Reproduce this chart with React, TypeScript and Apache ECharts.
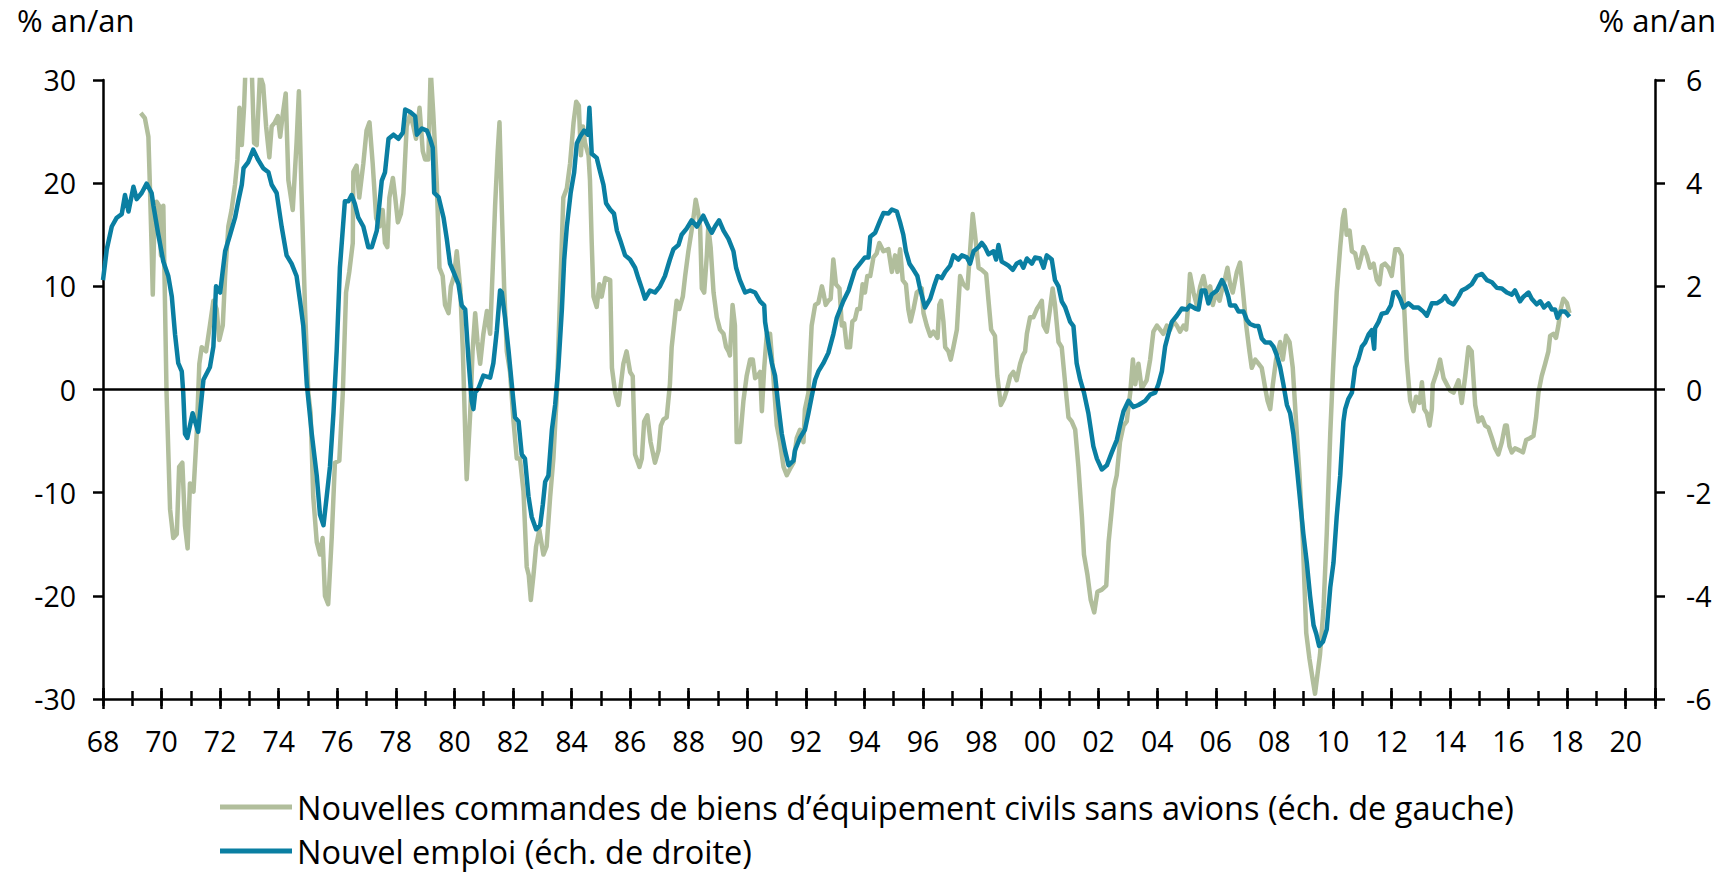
import React, { useEffect, useRef } from "react";
import * as echarts from "echarts";

const FONT = '"Open Sans", "Noto Sans", sans-serif';
const GREEN = "#b1be9c";
const BLUE = "#0a7fa2";

const ordersName = "Nouvelles commandes de biens d’équipement civils sans avions (éch. de gauche)";
const jobsName = "Nouvel emploi (éch. de droite)";
const unitLabel = "% an/an";

// [année décimale, % an/an] — commandes (échelle de gauche)
const ordersPoints: [number, number][] = [
  [1969.29,26.8],[1969.43,26.3],[1969.55,24.5],[1969.6,19.9],[1969.66,13.8],[1969.7,9.2],[1969.75,15.8],[1969.83,18.2],[1969.92,17.8],[1969.98,13.0],[1970.06,17.8],[1970.12,7.8],[1970.17,-0.3],[1970.29,-11.6],[1970.4,-14.4],[1970.52,-14.0],[1970.6,-7.5],[1970.71,-7.1],[1970.8,-13.2],[1970.89,-15.4],[1970.97,-9.1],[1971.09,-9.9],[1971.2,-4.3],[1971.29,2.5],[1971.37,4.1],[1971.52,3.7],[1971.65,6.2],[1971.77,8.6],[1971.88,7.8],[1971.97,4.8],[1972.09,6.2],[1972.17,11.0],[1972.28,15.8],[1972.39,17.4],[1972.51,19.9],[1972.59,22.3],[1972.66,27.3],[1972.74,23.7],[1972.82,27.5],[1972.87,31.5],[1973.0,33],[1973.08,31],[1973.16,23.9],[1973.25,23.7],[1973.36,30.5],[1973.47,29.5],[1973.57,25.5],[1973.68,22.5],[1973.76,25.5],[1973.87,25.9],[1973.97,26.5],[1974.05,24.5],[1974.14,26.7],[1974.24,28.7],[1974.33,20.3],[1974.48,17.4],[1974.61,23.9],[1974.69,28.9],[1974.78,19.0],[1974.9,7.8],[1975.01,-0.3],[1975.09,-2.3],[1975.18,-10.4],[1975.3,-14.8],[1975.41,-16.0],[1975.5,-14.4],[1975.58,-20.0],[1975.69,-20.8],[1975.81,-14.4],[1975.92,-7.1],[1976.07,-6.9],[1976.19,-0.3],[1976.3,9.4],[1976.41,11.4],[1976.53,14.2],[1976.55,21.1],[1976.66,21.7],[1976.75,18.6],
  [1976.89,21.9],[1977.0,25.1],[1977.1,25.9],[1977.21,21.9],[1977.33,16.6],[1977.44,15.8],[1977.55,17.4],[1977.63,14.2],[1977.71,13.8],[1977.78,18.6],[1977.9,20.5],[1977.98,18.6],[1978.07,16.2],[1978.17,17.0],[1978.26,19.0],[1978.37,25.5],[1978.49,26.7],[1978.6,25.5],[1978.69,24.3],[1978.81,27.3],[1978.92,23.1],[1979.0,22.3],[1979.11,22.3],[1979.19,31],[1979.28,26.7],[1979.4,19.9],[1979.49,11.8],[1979.6,11.0],[1979.68,8.2],[1979.8,7.4],[1979.88,10.0],[1979.99,11.0],[1980.08,13.4],[1980.2,9.8],[1980.29,3.7],[1980.37,-4.3],[1980.42,-8.7],[1980.54,-2.3],[1980.62,3.7],[1980.71,7.4],[1980.79,4.6],[1980.88,2.5],[1980.99,5.4],[1981.11,7.6],[1981.22,5.4],[1981.31,11.8],[1981.39,17.8],[1981.48,23.1],[1981.54,25.9],[1981.62,17.4],[1981.7,9.8],[1981.79,3.7],[1981.9,1.7],[1982.02,-3.1],[1982.13,-6.7],[1982.24,-6.7],[1982.36,-9.9],[1982.47,-17.2],[1982.54,-18.0],[1982.61,-20.4],[1982.7,-18.0],[1982.79,-15.2],[1982.9,-13.6],[1983.04,-16.0],[1983.15,-15.2],[1983.27,-10.4],[1983.38,-6.7],[1983.5,-0.3],[1983.61,9.4],[1983.72,18.6],[1983.84,19.5],[1983.95,21.9],[1984.07,25.9],[1984.16,27.9],[1984.25,27.5],[1984.32,22.7],[1984.39,25.5],[1984.46,23.9],[1984.58,22.7],[1984.63,20.3],[1984.69,14.2],[1984.75,9.0],[1984.86,8.0],[1984.95,10.2],[1985.03,9.0],[1985.15,10.8],[1985.32,10.6],[1985.38,2.1],[1985.49,-0.3],[1985.6,-1.5],
  [1985.77,2.5],[1985.88,3.7],[1986.0,1.7],[1986.09,1.3],[1986.17,-6.3],[1986.32,-7.5],[1986.4,-6.7],[1986.48,-3.1],[1986.59,-2.5],[1986.7,-5.1],[1986.85,-7.1],[1986.97,-5.9],[1987.05,-3.5],[1987.14,-2.9],[1987.25,-2.7],[1987.36,0.5],[1987.42,4.1],[1987.53,7.0],[1987.59,8.6],[1987.68,7.8],[1987.8,9.0],[1987.88,11.0],[1987.99,13.4],[1988.1,15.4],[1988.18,17.0],[1988.24,18.4],[1988.31,17.4],[1988.39,15.8],[1988.45,9.8],[1988.53,9.4],[1988.62,13.0],[1988.67,15.8],[1988.75,13.8],[1988.85,9.4],[1988.96,7.0],[1989.07,5.8],[1989.19,5.4],[1989.28,4.1],[1989.36,3.7],[1989.41,3.3],[1989.5,8.2],[1989.58,6.2],[1989.64,-5.1],[1989.75,-5.1],[1989.87,-1.1],[1989.98,1.3],[1990.1,2.9],[1990.19,2.9],[1990.27,1.1],[1990.35,1.3],[1990.44,1.7],[1990.5,-2.1],[1990.58,2.1],[1990.67,5.4],[1990.78,5.4],[1990.87,2.1],[1990.95,-1.1],[1991.01,-3.5],[1991.12,-5.1],[1991.24,-7.5],[1991.35,-8.3],[1991.46,-7.7],[1991.58,-7.1],[1991.69,-4.7],[1991.8,-3.9],[1991.92,-5.1],[1991.97,-1.9],[1992.09,-0.3],[1992.2,6.2],[1992.32,8.2],[1992.43,8.4],[1992.55,10.0],[1992.6,9.4],[1992.68,8.2],[1992.77,8.6],[1992.85,8.8],[1992.94,12.6],[1993.03,10.2],[1993.15,9.8],[1993.23,6.2],[1993.31,6.4],[1993.4,4.1],[1993.51,4.1],[1993.59,6.6],[1993.68,6.8],[1993.76,7.8],[1993.85,7.8],[1993.94,10.2],[1994.02,9.4],[1994.1,11.0],[1994.2,11.0],[1994.31,12.8],[1994.42,13.2],[1994.51,14.2],
  [1994.65,13.4],[1994.82,13.6],[1994.94,11.4],[1995.05,13.0],[1995.13,11.4],[1995.22,13.6],[1995.31,10.6],[1995.42,10.2],[1995.5,7.8],[1995.58,6.6],[1995.68,7.8],[1995.79,9.4],[1995.96,9.8],[1996.02,7.4],[1996.13,6.2],[1996.25,5.2],[1996.36,5.6],[1996.5,5.0],[1996.56,8.2],[1996.62,8.6],[1996.7,6.6],[1996.76,4.1],[1996.87,3.7],[1996.95,2.9],[1997.04,4.1],[1997.16,5.8],[1997.27,11.0],[1997.38,10.2],[1997.52,9.8],[1997.61,13.4],[1997.7,17.0],[1997.78,15.0],[1997.9,11.8],[1998.01,11.6],[1998.16,11.2],[1998.24,8.6],[1998.33,5.8],[1998.46,5.2],[1998.54,1.3],[1998.66,-1.5],[1998.77,-0.9],[1998.86,-0.1],[1998.98,1.3],[1999.09,1.7],[1999.2,0.9],[1999.32,2.5],[1999.41,3.3],[1999.49,3.7],[1999.55,5.4],[1999.66,7.0],[1999.77,7.0],[1999.89,7.8],[1999.98,8.2],[2000.06,8.6],[2000.12,6.2],[2000.23,5.6],[2000.34,7.8],[2000.43,9.8],[2000.51,8.2],[2000.63,4.6],[2000.74,4.1],[2000.86,0.5],[2000.97,-2.7],[2001.08,-3.1],[2001.2,-3.9],[2001.31,-7.5],[2001.43,-12.4],[2001.5,-16.0],[2001.62,-18.0],[2001.73,-20.4],[2001.85,-21.6],[2001.96,-19.6],[2002.11,-19.4],[2002.26,-19.0],[2002.34,-14.8],[2002.45,-11.6],[2002.51,-9.7],[2002.62,-8.3],[2002.73,-5.1],[2002.85,-3.5],[2002.96,-3.1],[2003.08,-0.3],[2003.17,2.9],[2003.25,0.5],[2003.36,2.5],[2003.47,0.1],
  [2003.64,0.9],[2003.76,2.9],[2003.87,5.6],[2003.99,6.2],[2004.1,5.8],[2004.21,5.4],[2004.33,6.2],[2004.44,5.8],[2004.56,6.6],[2004.67,6.2],[2004.78,5.6],[2004.9,6.2],[2004.99,5.8],[2005.07,8.6],[2005.12,11.2],[2005.24,9.4],[2005.35,8.2],[2005.47,10.0],[2005.58,11.0],[2005.69,9.4],[2005.81,10.0],[2005.9,8.2],[2006.01,9.4],[2006.13,8.6],[2006.24,10.0],[2006.32,10.8],[2006.4,11.8],[2006.49,10.2],[2006.58,9.4],[2006.72,11.4],[2006.83,12.3],[2006.92,9.8],[2007.04,6.2],[2007.15,3.7],[2007.23,2.1],[2007.35,2.9],[2007.46,2.5],[2007.57,2.1],[2007.69,0.1],[2007.77,-1.1],[2007.86,-1.9],[2007.95,0.5],[2008.06,2.9],[2008.2,4.6],[2008.29,2.9],[2008.4,5.2],[2008.52,4.6],[2008.63,2.1],[2008.75,-3.5],[2008.86,-8.3],[2008.97,-14.4],[2009.09,-23.6],[2009.2,-26.1],[2009.31,-28.1],[2009.39,-29.5],[2009.47,-27.7],[2009.56,-25.7],[2009.68,-21.2],[2009.79,-14.0],[2009.91,-4.3],[2010.02,2.9],[2010.13,9.4],[2010.25,13.8],[2010.34,16.6],[2010.4,17.4],[2010.47,15.0],[2010.57,15.4],[2010.65,13.4],[2010.76,13.2],[2010.87,11.8],[2010.95,12.6],[2011.04,13.8],[2011.16,13.0],[2011.27,11.8],[2011.39,12.2],[2011.5,10.6],[2011.59,10.2],[2011.67,12.0],[2011.78,12.2],[2011.9,11.8],[2012.01,11.0],[2012.13,13.6],[2012.24,13.6],[2012.35,13.0],
  [2012.41,9.4],[2012.52,2.9],[2012.64,-1.1],[2012.75,-2.1],[2012.84,-0.7],[2012.96,-1.3],[2013.04,0.7],[2013.12,-1.9],[2013.21,-2.3],[2013.3,-3.5],[2013.38,-1.9],[2013.41,0.5],[2013.55,1.7],[2013.66,2.9],[2013.78,1.1],[2013.89,0.5],[2014.0,-0.1],[2014.12,-0.3],[2014.29,0.9],[2014.4,-1.3],[2014.52,1.3],[2014.63,4.1],[2014.74,3.7],[2014.86,-1.5],[2014.97,-3.1],[2015.09,-2.7],[2015.2,-3.5],[2015.31,-3.7],[2015.43,-4.7],[2015.54,-5.7],[2015.65,-6.3],[2015.77,-5.1],[2015.88,-3.5],[2015.94,-3.5],[2016.03,-5.5],[2016.11,-6.1],[2016.22,-5.7],[2016.37,-5.9],[2016.49,-6.1],[2016.6,-4.9],[2016.74,-4.7],[2016.85,-4.5],[2016.94,-2.7],[2017.02,-0.3],[2017.13,1.3],[2017.25,2.5],[2017.36,3.7],[2017.42,5.2],[2017.53,5.4],[2017.62,5.0],[2017.7,6.2],[2017.78,7.8],[2017.87,8.8],[2017.99,8.4],[2018.08,7.4],
];

// [année décimale, % an/an] — emploi (échelle de droite)
const jobsPoints: [number, number][] = [
  [1968.0,2.12],[1968.13,2.72],[1968.3,3.16],[1968.47,3.33],[1968.64,3.4],[1968.75,3.77],[1968.87,3.45],[1969.04,3.93],[1969.15,3.69],[1969.32,3.81],[1969.49,3.99],[1969.66,3.81],[1969.72,3.57],[1969.89,3.0],[1970.06,2.48],[1970.23,2.2],[1970.35,1.8],[1970.46,1.07],[1970.57,0.51],[1970.69,0.35],[1970.74,-0.06],[1970.8,-0.86],[1970.88,-0.94],[1971.06,-0.46],[1971.25,-0.82],[1971.43,0.19],[1971.65,0.43],[1971.77,0.83],[1971.86,2.0],[1972.0,1.88],[1972.17,2.68],[1972.34,3.0],[1972.51,3.33],[1972.62,3.65],[1972.74,3.97],[1972.8,4.29],[1972.96,4.41],[1973.13,4.65],[1973.3,4.45],[1973.47,4.29],[1973.65,4.21],[1973.76,3.97],[1973.93,3.81],[1974.1,3.16],[1974.27,2.6],[1974.44,2.44],[1974.61,2.2],[1974.73,1.71],[1974.84,1.23],[1974.96,0.1],[1975.13,-0.86],[1975.3,-1.67],[1975.41,-2.43],[1975.53,-2.63],[1975.64,-2.07],[1975.75,-1.5],[1975.87,-0.46],[1975.98,0.75],[1976.09,2.36],[1976.26,3.65],[1976.38,3.65],[1976.49,3.77],[1976.6,3.6],[1976.72,3.33],
  [1976.89,3.16],[1977.06,2.76],[1977.18,2.76],[1977.35,3.08],[1977.52,4.05],[1977.63,4.21],[1977.75,4.86],[1977.92,4.94],[1978.09,4.86],[1978.24,4.98],[1978.32,5.43],[1978.49,5.38],[1978.66,5.3],[1978.72,4.94],[1978.89,5.06],[1979.06,5.02],[1979.17,4.86],[1979.26,4.69],[1979.31,3.81],[1979.46,3.73],[1979.63,3.33],[1979.74,2.92],[1979.85,2.44],[1979.97,2.28],[1980.14,2.04],[1980.25,1.63],[1980.37,1.55],[1980.48,0.59],[1980.59,-0.22],[1980.65,-0.38],[1980.71,-0.06],[1980.82,0.02],[1980.99,0.27],[1981.22,0.23],[1981.33,0.51],[1981.45,1.15],[1981.56,1.92],[1981.62,1.88],[1981.73,1.39],[1981.85,0.75],[1981.96,0.1],[1982.07,-0.54],[1982.19,-0.62],[1982.3,-1.26],[1982.41,-1.34],[1982.53,-2.07],[1982.64,-2.47],[1982.79,-2.71],[1982.93,-2.63],[1983.02,-2.23],[1983.1,-1.79],[1983.21,-1.67],[1983.33,-0.78],[1983.44,-0.3],[1983.55,0.43],[1983.67,1.55],[1983.75,2.52],[1983.84,3.16],[1983.97,3.81],[1984.09,4.21],[1984.18,4.77],[1984.29,4.9],[1984.43,5.02],[1984.56,4.94],[1984.61,5.46],[1984.69,4.57],[1984.86,4.49],[1984.98,4.21],[1985.09,3.97],[1985.18,3.61],[1985.32,3.49],[1985.45,3.41],[1985.55,3.08],
  [1985.66,2.9],[1985.83,2.6],[1986.0,2.52],[1986.17,2.36],[1986.28,2.16],[1986.4,1.96],[1986.51,1.76],[1986.68,1.92],[1986.85,1.88],[1987.02,2.0],[1987.19,2.2],[1987.36,2.52],[1987.48,2.72],[1987.65,2.8],[1987.76,3.0],[1987.93,3.12],[1988.1,3.28],[1988.28,3.16],[1988.5,3.37],[1988.67,3.16],[1988.79,3.04],[1988.9,3.16],[1989.04,3.28],[1989.19,3.08],[1989.36,2.92],[1989.53,2.68],[1989.62,2.36],[1989.75,2.12],[1989.93,1.88],[1990.1,1.92],[1990.27,1.88],[1990.44,1.71],[1990.58,1.63],[1990.61,1.31],[1990.72,0.91],[1990.84,0.51],[1990.95,0.27],[1991.06,-0.3],[1991.18,-0.86],[1991.29,-1.18],[1991.41,-1.47],[1991.58,-1.38],[1991.63,-1.18],[1991.8,-0.94],[1991.97,-0.78],[1992.09,-0.46],[1992.2,-0.14],[1992.32,0.19],[1992.43,0.35],[1992.6,0.51],[1992.77,0.71],[1992.94,1.07],[1993.06,1.39],[1993.17,1.55],[1993.28,1.71],[1993.46,1.92],[1993.57,2.12],[1993.68,2.32],[1993.85,2.44],[1994.02,2.56],[1994.14,2.56],[1994.2,2.96],[1994.37,3.04],[1994.54,3.28],
  [1994.65,3.42],[1994.82,3.41],[1994.94,3.49],[1995.11,3.45],[1995.22,3.24],[1995.33,3.0],[1995.42,2.68],[1995.54,2.44],[1995.68,2.32],[1995.81,2.2],[1995.9,1.96],[1996.07,1.59],[1996.25,1.76],[1996.38,2.0],[1996.5,2.2],[1996.64,2.16],[1996.76,2.28],[1996.93,2.4],[1997.04,2.6],[1997.21,2.52],[1997.33,2.6],[1997.5,2.56],[1997.61,2.44],[1997.73,2.68],[1997.9,2.76],[1998.01,2.84],[1998.12,2.76],[1998.24,2.62],[1998.41,2.68],[1998.5,2.52],[1998.58,2.8],[1998.69,2.48],[1998.81,2.44],[1998.92,2.4],[1999.07,2.32],[1999.2,2.44],[1999.32,2.48],[1999.43,2.36],[1999.55,2.54],[1999.72,2.44],[1999.83,2.56],[2000.0,2.54],[2000.12,2.36],[2000.23,2.6],[2000.4,2.52],[2000.51,2.12],[2000.63,2.0],[2000.74,1.71],[2000.86,1.59],[2001.03,1.31],[2001.14,1.23],[2001.25,0.51],[2001.37,0.19],[2001.5,-0.06],[2001.65,-0.46],[2001.82,-1.1],[2001.94,-1.34],[2002.11,-1.55],[2002.28,-1.47],[2002.45,-1.22],[2002.62,-0.98],[2002.73,-0.7],[2002.85,-0.42],[2003.02,-0.22],[2003.19,-0.34],[2003.36,-0.3],
  [2003.59,-0.22],[2003.76,-0.1],[2003.93,-0.06],[2004.04,0.1],[2004.16,0.35],[2004.27,0.83],[2004.38,1.07],[2004.5,1.31],[2004.67,1.43],[2004.84,1.57],[2005.01,1.55],[2005.12,1.63],[2005.3,1.57],[2005.41,1.55],[2005.52,1.92],[2005.64,1.92],[2005.75,1.67],[2005.86,1.84],[2006.04,1.92],[2006.21,2.12],[2006.32,2.0],[2006.43,1.8],[2006.49,1.63],[2006.66,1.63],[2006.78,1.51],[2006.95,1.51],[2007.06,1.35],[2007.17,1.27],[2007.35,1.23],[2007.46,1.23],[2007.57,0.99],[2007.69,0.91],[2007.86,0.91],[2007.97,0.83],[2008.08,0.67],[2008.2,0.43],[2008.31,0.1],[2008.43,-0.3],[2008.54,-0.46],[2008.65,-0.86],[2008.77,-1.51],[2008.88,-2.15],[2008.99,-2.79],[2009.11,-3.36],[2009.22,-4.0],[2009.34,-4.57],[2009.43,-4.73],[2009.53,-4.97],[2009.66,-4.89],[2009.79,-4.65],[2009.91,-3.84],[2010.02,-3.36],[2010.13,-2.47],[2010.25,-1.67],[2010.36,-0.62],[2010.42,-0.38],[2010.53,-0.18],[2010.65,-0.06],[2010.76,0.43],[2010.87,0.59],[2010.99,0.83],[2011.1,0.91],[2011.22,1.07],[2011.33,1.15],[2011.41,0.79],[2011.44,1.19],[2011.56,1.31],[2011.67,1.47],[2011.84,1.49],[2011.98,1.63],[2012.07,1.88],[2012.18,1.89],[2012.3,1.76],[2012.41,1.59],
  [2012.58,1.67],[2012.75,1.59],[2012.92,1.59],[2013.09,1.51],[2013.21,1.43],[2013.38,1.67],[2013.55,1.67],[2013.72,1.73],[2013.83,1.81],[2013.95,1.7],[2014.12,1.65],[2014.29,1.8],[2014.4,1.92],[2014.57,1.97],[2014.74,2.04],[2014.91,2.2],[2015.09,2.24],[2015.26,2.12],[2015.43,2.08],[2015.6,1.97],[2015.77,1.96],[2015.94,1.88],[2016.11,1.84],[2016.22,1.92],[2016.39,1.71],[2016.51,1.8],[2016.68,1.88],[2016.79,1.76],[2016.96,1.65],[2017.08,1.71],[2017.21,1.59],[2017.36,1.67],[2017.48,1.55],[2017.59,1.55],[2017.67,1.39],[2017.78,1.51],[2017.93,1.51],[2018.08,1.41],
];

const yearMin = 1968;
const yearMax = 2021;
const leftMin = -30, leftMax = 30, leftStep = 10;
const rightMin = -6, rightMax = 6, rightStep = 2;

const yearLabel = (v: number) => (v >= 2021 ? "" : String(Math.round(v) % 100).padStart(2, "0"));

export default function App() {
  const ref = useRef<HTMLDivElement>(null);
  useEffect(() => {
    if (!ref.current) return;
    const chart = echarts.init(ref.current, undefined, { renderer: "svg" });
    const axisLineStyle = { color: "#000", width: 2.5 };
    const hiddenX = (interval: number, inside: boolean, length: number) => ({
      type: "value",
      min: yearMin,
      max: yearMax,
      interval,
      position: "bottom",
      axisLine: { show: false, onZero: false },
      axisTick: { show: true, inside, length, lineStyle: axisLineStyle },
      axisLabel: { show: false },
      splitLine: { show: false },
    });
    const legendRow = (name: string, top: number) => ({
      orient: "horizontal",
      left: 220,
      top,
      padding: 0,
      itemWidth: 72,
      itemHeight: 5,
      icon: "rect",
      textStyle: { fontSize: 32.5, lineHeight: 34, color: "#000", fontFamily: FONT },
      data: [name],
    });
    chart.setOption({
      animation: false,
      textStyle: { fontFamily: FONT },
      grid: { left: 103, right: 74, top: 80, bottom: 173, containLabel: false },
      xAxis: [
        {
          type: "value",
          min: yearMin,
          max: yearMax,
          interval: 2,
          position: "bottom",
          axisLine: { show: true, onZero: false, lineStyle: axisLineStyle },
          axisTick: { show: true, inside: false, length: 10, lineStyle: axisLineStyle },
          axisLabel: { show: true, margin: 27, fontSize: 28.5, color: "#000", fontFamily: FONT, formatter: yearLabel },
          splitLine: { show: false },
        },
        hiddenX(2, true, 11),
        hiddenX(1, false, 7),
        hiddenX(1, true, 8),
      ],
      yAxis: [
        {
          type: "value",
          min: leftMin,
          max: leftMax,
          interval: leftStep,
          position: "left",
          axisLine: { show: true, onZero: false, lineStyle: axisLineStyle },
          axisTick: { show: true, inside: false, length: 10, lineStyle: axisLineStyle },
          axisLabel: { margin: 27, fontSize: 28.5, color: "#000", fontFamily: FONT },
          splitLine: { show: false },
        },
        {
          type: "value",
          min: rightMin,
          max: rightMax,
          interval: rightStep,
          position: "right",
          axisLine: { show: true, onZero: false, lineStyle: axisLineStyle },
          axisTick: { show: true, inside: false, length: 10, lineStyle: axisLineStyle },
          axisLabel: { margin: 31, fontSize: 28.5, color: "#000", fontFamily: FONT },
          splitLine: { show: false },
        },
      ],
      legend: [legendRow(ordersName, 790), legendRow(jobsName, 834)],
      graphic: [
        { type: "text", left: 17, top: 4, style: { text: unitLabel, font: `31px ${FONT}`, fill: "#000" } },
        { type: "text", right: 13, top: 4, style: { text: unitLabel, font: `31px ${FONT}`, fill: "#000" } },
      ],
      series: [
        {
          name: ordersName,
          type: "line",
          xAxisIndex: 0,
          yAxisIndex: 0,
          data: ordersPoints,
          showSymbol: false,
          clip: true,
          color: GREEN,
          lineStyle: { color: GREEN, width: 4.5, join: "round" },
          markLine: {
            silent: true,
            symbol: "none",
            label: { show: false },
            lineStyle: { color: "#000", width: 2.5, type: "solid" },
            data: [{ yAxis: 0 }],
          },
        },
        {
          name: jobsName,
          type: "line",
          xAxisIndex: 0,
          yAxisIndex: 1,
          data: jobsPoints,
          showSymbol: false,
          clip: true,
          color: BLUE,
          lineStyle: { color: BLUE, width: 4.5, join: "round" },
        },
      ],
    });
    return () => chart.dispose();
  }, []);
  return (
    <div
      ref={ref}
      style={{ position: "fixed", left: 0, top: 0, width: 1729, height: 872, background: "#fff" }}
    />
  );
}
